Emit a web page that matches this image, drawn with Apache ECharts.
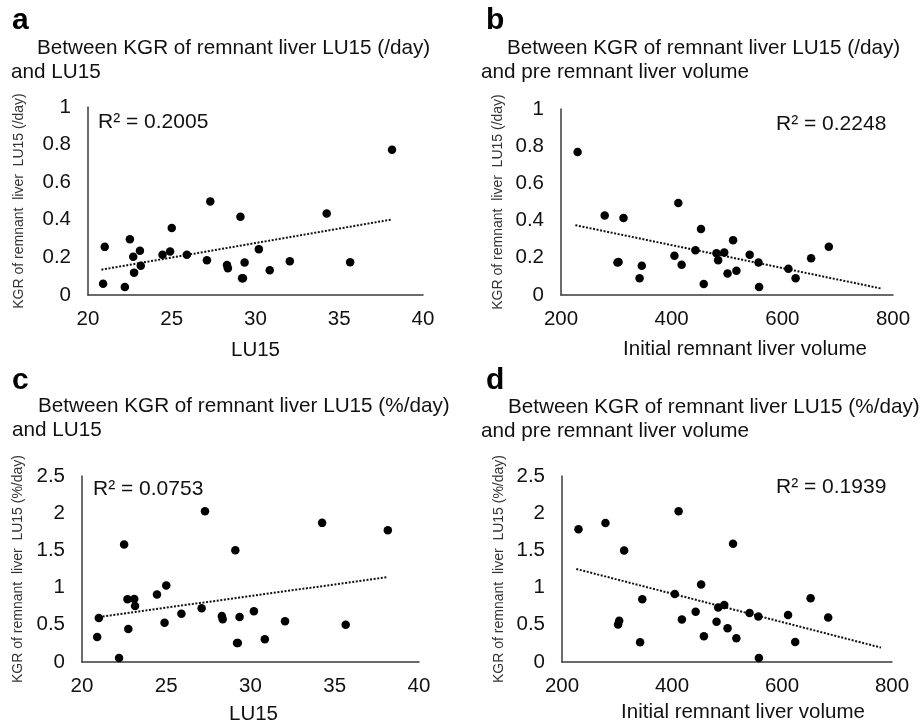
<!DOCTYPE html>
<html>
<head>
<meta charset="utf-8">
<script src="https://cdn.jsdelivr.net/npm/echarts@6.0.0/dist/echarts.min.js"></script>
<style>
html,body{margin:0;padding:0;background:#fff;}
#chart{width:921px;height:727px;}
</style>
</head>
<body>
<div id="chart"></div>
<script>
// ---- data ----
// LU15 for each patient (panels a and c)
const lu15 = [20.9, 21.0, 22.2, 22.5, 22.7, 22.75, 23.1, 23.15, 24.45, 24.9, 25.0, 25.9, 27.1, 27.3, 28.3, 28.35, 29.1, 29.2, 29.25, 29.35, 30.2, 30.85, 32.05, 34.25, 35.65, 38.15];
// KGR of remnant liver LU15 (/day) vs LU15 (panel a)
const kgrDayA = [0.06, 0.256, 0.043, 0.297, 0.203, 0.119, 0.235, 0.155, 0.214, 0.231, 0.356, 0.214, 0.185, 0.498, 0.160, 0.142, 0.416, 0.089, 0.089, 0.173, 0.244, 0.132, 0.180, 0.434, 0.174, 0.772];
// KGR of remnant liver LU15 (%/day) vs LU15 (panel c)
const kgrPctC = [0.336, 0.592, 0.054, 1.578, 0.843, 0.444, 0.848, 0.753, 0.906, 0.529, 1.027, 0.650, 0.722, 2.027, 0.619, 0.574, 1.502, 0.256, 0.256, 0.605, 0.682, 0.305, 0.547, 1.870, 0.502, 1.771];

// Initial remnant liver volume for each patient (panels b and d)
const volume = [230, 279, 313, 302, 304, 342, 346, 405, 412, 418, 443, 453, 458, 481, 484, 495, 501, 511, 517, 541, 557, 558, 611, 624, 652, 684];
// KGR (/day) vs volume (panel b)
const kgrDayB = [0.769, 0.427, 0.414, 0.175, 0.178, 0.090, 0.157, 0.211, 0.494, 0.162, 0.241, 0.355, 0.059, 0.225, 0.187, 0.229, 0.115, 0.295, 0.130, 0.216, 0.175, 0.043, 0.141, 0.090, 0.198, 0.259];
// KGR (%/day) vs volume (panel d)
const kgrPctD = [1.784, 1.869, 1.500, 0.505, 0.554, 0.266, 0.842, 0.914, 2.027, 0.572, 0.676, 1.041, 0.347, 0.541, 0.734, 0.766, 0.455, 1.590, 0.320, 0.658, 0.613, 0.054, 0.631, 0.270, 0.856, 0.599];

// R² labels
const r2Labels = ['R² = 0.2005', 'R² = 0.2248', 'R² = 0.0753', 'R² = 0.1939'];
const panelLetters = ['a', 'b', 'c', 'd'];
const titleLine1 = [
  'Between KGR of remnant liver LU15 (/day)',
  'Between KGR of remnant liver LU15 (/day)',
  'Between KGR of remnant liver LU15 (%/day)',
  'Between KGR of remnant liver LU15 (%/day)'
];
const titleLine2 = ['and LU15', 'and pre remnant liver volume', 'and LU15', 'and pre remnant liver volume'];
const yNames = [
  'KGR of remnant  liver  LU15 (/day)',
  'KGR of remnant  liver  LU15 (/day)',
  'KGR of remnant  liver  LU15 (%/day)',
  'KGR of remnant  liver  LU15 (%/day)'
];
const xNames = ['LU15', 'Initial remnant liver volume', 'LU15', 'Initial remnant liver volume'];
// axis ranges [min, max, interval]
const xRangeLU = [20, 40, 5];
const xRangeVol = [200, 800, 200];
const yRangeDay = [0, 1, 0.2];
const yRangePct = [0, 2.5, 0.5];
// trendline extents (x, data units)
const trendLU = [20.8, 38.1];
const trendVol = [226, 780];

// ---- helpers ----
const FF = '"Liberation Sans", Arial, Helvetica, sans-serif';
const TXT = '#111';
const AX = '#3a3a3a';

function linFit(xs, ys) {
  const n = xs.length;
  let sx = 0, sy = 0, sxx = 0, sxy = 0;
  for (let i = 0; i < n; i++) { sx += xs[i]; sy += ys[i]; sxx += xs[i] * xs[i]; sxy += xs[i] * ys[i]; }
  const b = (n * sxy - sx * sy) / (n * sxx - sx * sx);
  const a = (sy - b * sx) / n;
  return x => a + b * x;
}
function zip(xs, ys) { return xs.map((x, i) => [x, ys[i]]); }

const grids = [
  { left: 88, top: 107, width: 335, height: 188 },
  { left: 561, top: 109, width: 332, height: 186 },
  { left: 82, top: 476, width: 337, height: 186 },
  { left: 562, top: 476, width: 330, height: 186 }
];
const xNameGap = [45, 44, 42, 40];
const xNamePad = [[0, 0, 0, 0], [0, 0, 0, 36], [0, 0, 0, 6], [0, 0, 0, 32]];
const yNameGap = [62, 56, 57, 56];

function xAxisOf(i, rng) {
  return {
    type: 'value', gridIndex: i, min: rng[0], max: rng[1], interval: rng[2],
    name: xNames[i], nameLocation: 'middle', nameGap: xNameGap[i],
    nameTextStyle: { fontSize: 20.5, color: TXT, fontFamily: FF, padding: xNamePad[i] },
    axisLine: { show: true, onZero: false, lineStyle: { color: AX, width: 1.5 } },
    axisTick: { show: false }, splitLine: { show: false },
    axisLabel: { fontSize: 20.5, color: TXT, fontFamily: FF, margin: 14 }
  };
}
function yAxisOf(i, rng) {
  return {
    type: 'value', gridIndex: i, min: rng[0], max: rng[1], interval: rng[2],
    name: yNames[i], nameLocation: 'middle', nameGap: yNameGap[i], nameRotate: 90,
    nameTextStyle: { fontSize: 14, color: '#333', fontFamily: FF },
    axisLine: { show: true, onZero: false, lineStyle: { color: AX, width: 1.5 } },
    axisTick: { show: false }, splitLine: { show: false },
    axisLabel: { fontSize: 20.5, color: TXT, fontFamily: FF, margin: 17 }
  };
}

const panels = [
  { xs: lu15, ys: kgrDayA, trend: trendLU },
  { xs: volume, ys: kgrDayB, trend: trendVol },
  { xs: lu15, ys: kgrPctC, trend: trendLU },
  { xs: volume, ys: kgrPctD, trend: trendVol }
];

const series = [];
panels.forEach((p, i) => {
  series.push({
    type: 'scatter', xAxisIndex: i, yAxisIndex: i,
    data: zip(p.xs, p.ys), symbol: 'circle', symbolSize: 8.5,
    itemStyle: { color: '#000', opacity: 1 }, silent: true, z: 3
  });
  const f = linFit(p.xs, p.ys);
  series.push({
    type: 'line', xAxisIndex: i, yAxisIndex: i,
    data: [[p.trend[0], f(p.trend[0])], [p.trend[1], f(p.trend[1])]],
    symbol: 'none', silent: true, z: 2,
    lineStyle: { color: '#111', width: 2, type: [2, 1.6] }
  });
});

// text positions
const letterPos = [[12, 21], [486, 21], [12, 381], [486, 381]];
const line1Pos = [[37, 48], [507, 48], [38, 406], [508, 407]];
const line2Pos = [[11, 72], [481, 72], [12, 430], [481, 431]];
const r2Pos = [[98, 122], [776, 124], [93, 489], [776, 487]];

const graphic = [];
for (let i = 0; i < 4; i++) {
  graphic.push({ type: 'text', x: letterPos[i][0], y: letterPos[i][1],
    style: { text: panelLetters[i], font: 'bold 30px ' + FF, fill: '#000', verticalAlign: 'middle', align: 'left' } });
  graphic.push({ type: 'text', x: line1Pos[i][0], y: line1Pos[i][1],
    style: { text: titleLine1[i], font: '20.7px ' + FF, fill: TXT, verticalAlign: 'middle', align: 'left' } });
  graphic.push({ type: 'text', x: line2Pos[i][0], y: line2Pos[i][1],
    style: { text: titleLine2[i], font: '20.7px ' + FF, fill: TXT, verticalAlign: 'middle', align: 'left' } });
  graphic.push({ type: 'text', x: r2Pos[i][0], y: r2Pos[i][1],
    style: { text: r2Labels[i], font: '21px ' + FF, fill: TXT, verticalAlign: 'middle', align: 'left' } });
}

const chart = echarts.init(document.getElementById('chart'), null, { renderer: 'canvas' });
chart.setOption({
  backgroundColor: '#fff',
  animation: false,
  grid: grids,
  xAxis: [xAxisOf(0, xRangeLU), xAxisOf(1, xRangeVol), xAxisOf(2, xRangeLU), xAxisOf(3, xRangeVol)],
  yAxis: [yAxisOf(0, yRangeDay), yAxisOf(1, yRangeDay), yAxisOf(2, yRangePct), yAxisOf(3, yRangePct)],
  series: series,
  graphic: graphic
});
</script>
</body>
</html>
